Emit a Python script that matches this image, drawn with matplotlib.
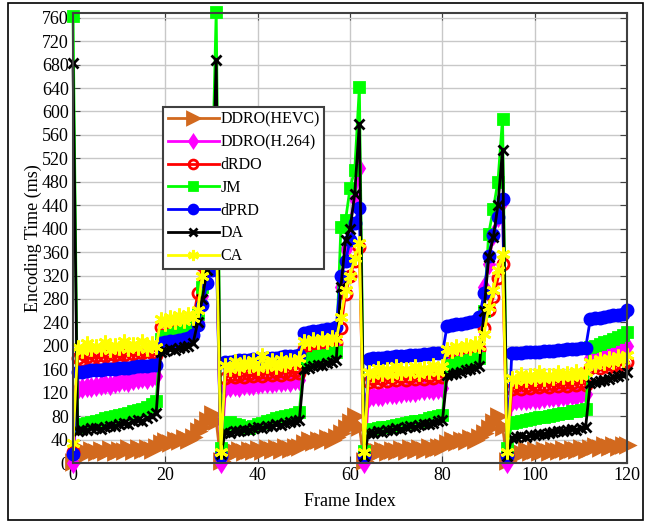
import matplotlib.pyplot as plt
from matplotlib.patches import Rectangle

# frame index 0..120
frames = list(range(121))

# encoding time (ms) per frame
ddro_hevc = [2,
    16, 22, 17, 23, 18, 22, 19, 24, 19, 23, 20, 25, 21, 25, 22, 26, 23, 27,
    34, 38, 35, 40, 37, 42, 39, 44,
    55, 62, 74, 84, 72, 4,
    17, 22, 18, 23, 19, 23, 20, 24, 21, 25, 22, 26, 23, 27, 24, 28, 27,
    35, 39, 36, 40, 38, 42, 40, 45,
    52, 60, 70, 80, 62, 4,
    17, 22, 18, 23, 19, 23, 20, 24, 21, 25, 22, 26, 23, 27, 24, 28, 27,
    35, 39, 36, 40, 38, 42, 40, 45,
    52, 60, 70, 80, 62, 4,
    16, 21, 17, 22, 18, 22, 19, 23, 19, 23, 20, 24, 21, 24, 22, 25, 23,
    25, 29, 26, 30, 27, 30, 28, 31, 30]

ddro_h264 = [0,
    126, 128, 130, 129, 132, 133, 135, 134, 137, 138, 140, 139, 142, 143, 145, 144, 147, 148,
    210, 212, 215, 214, 217, 218, 220, 222,
    240, 285, 330, 380, 430, 0,
    128, 130, 131, 130, 133, 134, 133, 135, 136, 137, 136, 138, 139, 140, 139, 141, 142,
    185, 188, 190, 189, 192, 194, 193, 196,
    300, 366, 410, 450, 503, 0,
    112, 114, 115, 114, 117, 118, 117, 120, 121, 122, 121, 124, 125, 126, 125, 127, 128,
    180, 183, 185, 184, 187, 189, 190, 192,
    300, 340, 390, 420, 448, 0,
    105, 107, 108, 107, 109, 110, 109, 111, 112, 113, 112, 114, 115, 116, 115, 117, 118,
    180, 183, 185, 188, 190, 192, 195, 197, 200]

drdo = [18,
    180, 176, 181, 177, 182, 178, 183, 179, 184, 180, 185, 181, 186, 182, 187, 183, 188, 184,
    232, 236, 233, 238, 235, 240, 237, 242,
    290, 338, 350, 362, 395, 15,
    145, 150, 146, 151, 147, 152, 148, 153, 149, 154, 150, 155, 151, 156, 152, 157, 153,
    195, 199, 196, 200, 197, 202, 199, 204,
    230, 289, 320, 345, 368, 15,
    138, 143, 139, 144, 140, 145, 141, 146, 142, 147, 143, 148, 144, 149, 145, 150, 146,
    185, 189, 186, 190, 187, 192, 189, 194,
    230, 261, 283, 315, 340, 15,
    126, 131, 127, 132, 128, 133, 129, 134, 130, 135, 131, 136, 132, 137, 133, 138, 134,
    162, 166, 163, 167, 164, 168, 165, 169, 172]

jm = [763,
    62, 66, 68, 70, 72, 74, 76, 78, 80, 82, 84, 86, 88, 90, 93, 96, 100, 105,
    212, 216, 218, 222, 224, 226, 228, 232,
    255, 300, 360, 440, 770, 25,
    68, 70, 67, 65, 62, 60, 63, 66, 68, 72, 74, 76, 78, 80, 82, 84, 87,
    176, 178, 180, 182, 183, 185, 187, 190,
    402, 414, 470, 500, 641, 20,
    56, 58, 60, 61, 62, 64, 65, 66, 68, 70, 71, 72, 74, 76, 78, 80, 82,
    165, 168, 170, 172, 174, 176, 178, 180,
    260, 391, 434, 480, 588, 25,
    68, 70, 72, 73, 75, 76, 78, 79, 80, 82, 83, 85, 86, 88, 89, 91, 93,
    198, 200, 203, 206, 208, 212, 215, 218, 223]

dprd = [15,
    155, 156, 157, 158, 158, 159, 160, 161, 161, 162, 163, 163, 164, 165, 165, 166, 167, 168,
    205, 207, 208, 209, 210, 212, 214, 218,
    235, 270, 307, 329, 375, 12,
    172, 173, 174, 175, 175, 176, 177, 178, 178, 179, 180, 180, 181, 182, 182, 183, 185,
    222, 224, 225, 226, 227, 228, 229, 232,
    320, 345, 380, 410, 436, 12,
    178, 179, 179, 180, 181, 181, 182, 183, 183, 184, 184, 185, 186, 186, 187, 187, 188,
    234, 236, 237, 238, 239, 240, 242, 249,
    290, 354, 390, 420, 451, 12,
    187, 188, 188, 189, 189, 190, 190, 191, 192, 192, 193, 193, 194, 195, 195, 196, 197,
    245, 247, 248, 250, 251, 252, 253, 255, 262]

da = [683,
    55, 57, 56, 59, 60, 58, 62, 64, 63, 66, 68, 67, 71, 73, 72, 77, 80, 85,
    190, 192, 194, 193, 196, 198, 200, 205,
    240, 280, 330, 390, 688, 15,
    53, 52, 55, 54, 57, 56, 59, 61, 60, 63, 64, 66, 65, 68, 70, 71, 73,
    160, 163, 165, 167, 168, 170, 172, 176,
    300, 380, 400, 460, 579, 12,
    51, 52, 54, 53, 56, 57, 59, 58, 61, 63, 62, 65, 67, 66, 69, 71, 73,
    150, 152, 154, 156, 158, 160, 162, 165,
    260, 351, 385, 440, 535, 12,
    43, 44, 46, 45, 47, 48, 50, 49, 52, 53, 55, 54, 56, 58, 57, 60, 62,
    136, 138, 140, 142, 144, 146, 148, 151, 155]

ca = [35,
    198, 192, 205, 194, 200, 195, 207, 193, 202, 196, 208, 194, 203, 197, 209, 195, 204, 198,
    245, 238, 250, 240, 252, 242, 255, 248,
    262, 320, 350, 380, 410, 18,
    168, 160, 174, 162, 172, 165, 176, 163, 185, 166, 175, 164, 178, 167, 176, 170, 180,
    208, 204, 212, 206, 214, 207, 215, 212,
    250, 295, 320, 350, 375, 18,
    155, 150, 162, 152, 160, 151, 165, 153, 161, 154, 166, 152, 163, 155, 167, 156, 165,
    195, 192, 200, 194, 202, 196, 204, 200,
    220, 266, 295, 330, 357, 18,
    145, 140, 152, 142, 150, 143, 155, 144, 151, 145, 156, 146, 153, 147, 157, 148, 155,
    172, 168, 178, 170, 180, 172, 182, 175, 185]

plt.rcParams['font.family'] = ['Liberation Serif', 'DejaVu Serif']

fig = plt.figure(figsize=(6.52, 5.22), dpi=100)
ax = fig.add_axes([0.112, 0.113, 0.850, 0.862])

series = [
    (ddro_hevc, 'DDRO(HEVC)', '#D2691E', '>', True, 10),
    (ddro_h264, 'DDRO(H.264)', '#FF00FF', 'd', True, 8),
    (drdo, 'dRDO', '#FF0000', 'o', False, 8),
    (jm, 'JM', '#00FF00', 's', True, 7.5),
    (dprd, 'dPRD', '#0000FF', 'o', True, 8),
    (da, 'DA', '#000000', 'x', True, 7.5),
    (ca, 'CA', '#FFFF00', (6, 2, 0), True, 10),
]

for vals, name, col, mk, filled, size in series:
    ax.plot(frames, vals, color=col, lw=2, marker=mk, ms=size,
            mfc=col if filled else 'none', mec=col, mew=2,
            label=name, clip_on=False)

ax.set_xlim(0, 120)
ax.set_ylim(0, 768)
ax.set_xticks(range(0, 121, 20))
ax.set_yticks(range(0, 761, 40))
ax.grid(True, color='#c8c8c8', lw=1)
ax.set_axisbelow(True)
ax.tick_params(direction='in', top=True, right=True, labelsize=13,
               length=5, color='#404040', pad=3)
for s in ax.spines.values():
    s.set_color('#404040')
    s.set_linewidth(1.5)

ax.set_xlabel('Frame Index', fontsize=13, labelpad=6)
ax.set_ylabel('Encoding Time (ms)', fontsize=13, labelpad=0)

leg = ax.legend(loc='upper left', bbox_to_anchor=(0.162, 0.791),
                fontsize=11.5, fancybox=False, framealpha=1,
                edgecolor='#404040', handlelength=3.2, handletextpad=0.1,
                labelspacing=0.42, borderpad=0.3, borderaxespad=0,
                markerscale=0.8)
leg.get_frame().set_linewidth(1.5)

# outer border of the picture
fig.patches.append(Rectangle((0.012, 0.004), 0.974, 0.99, transform=fig.transFigure,
                             fill=False, ec='black', lw=1.2))

fig.savefig('out.png', dpi=100)
